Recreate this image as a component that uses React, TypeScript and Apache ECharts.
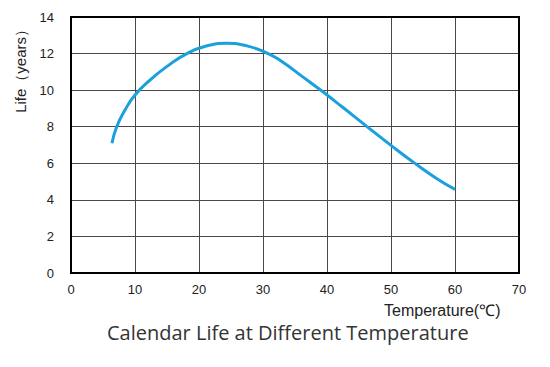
import React, { useEffect, useRef } from "react";
import * as echarts from "echarts";

const temperature = [6.4, 7.14, 8.5, 10, 12.34, 15, 18.1, 21, 24.3, 27.5, 30.8, 33, 36, 39.2, 42.5, 46.2, 50, 53.8, 57, 60];
const life = [7.1, 8.0, 8.95, 9.73, 10.55, 11.3, 12.0, 12.4, 12.56, 12.42, 12.0, 11.55, 10.78, 9.95, 9.05, 8.02, 6.98, 5.98, 5.2, 4.57];

const xTicks = [0, 10, 20, 30, 40, 50, 60, 70];
const yTicks = [0, 2, 4, 6, 8, 10, 12, 14];

export default function App() {
  const ref = useRef<HTMLDivElement>(null);
  useEffect(() => {
    if (!ref.current) return;
    const chart = echarts.init(ref.current, undefined, { renderer: "svg" });
    chart.setOption({
      animation: false,
      grid: {
        left: 71,
        right: 31,
        top: 17,
        bottom: 94,
        show: true,
        borderColor: "#000",
        borderWidth: 2,
        z: 5,
      },
      xAxis: {
        type: "value",
        min: xTicks[0],
        max: xTicks[xTicks.length - 1],
        interval: 10,
        axisLine: { show: false },
        axisTick: { show: false },
        axisLabel: { color: "#222", fontSize: 13, fontFamily: "Liberation Sans", margin: 10 },
        splitLine: { show: true, lineStyle: { color: "#4e4646", width: 1 } },
      },
      yAxis: {
        type: "value",
        min: yTicks[0],
        max: yTicks[yTicks.length - 1],
        interval: 2,
        axisLine: { show: false },
        axisTick: { show: false },
        axisLabel: { color: "#222", fontSize: 13, fontFamily: "Liberation Sans", margin: 17 },
        splitLine: { show: true, lineStyle: { color: "#4e4646", width: 1 } },
      },
      graphic: [
        {
          type: "text",
          left: 13,
          top: 22,
          rotation: Math.PI / 2,
          style: {
            text: "Life（years）",
            fill: "#222",
            font: "15px 'Liberation Sans'",
          },
        },
        {
          type: "text",
          left: 384,
          top: 302,
          style: {
            text: "Temperature(℃)",
            fill: "#222",
            font: "16px 'Liberation Sans'",
          },
        },
        {
          type: "text",
          left: 107,
          top: 322,
          style: {
            text: "Calendar Life at Different Temperature",
            fill: "#333",
            font: "20px 'Open Sans'",
          },
        },
      ],
      series: [
        {
          type: "line",
          data: temperature.map((t, i) => [t, life[i]]),
          smooth: 0.5,
          showSymbol: false,
          lineStyle: { color: "#1aa0dc", width: 3 },
          z: 10,
        },
      ],
    });
    return () => chart.dispose();
  }, []);
  return <div ref={ref} style={{ width: 550, height: 367, margin: -8 }} />;
}
